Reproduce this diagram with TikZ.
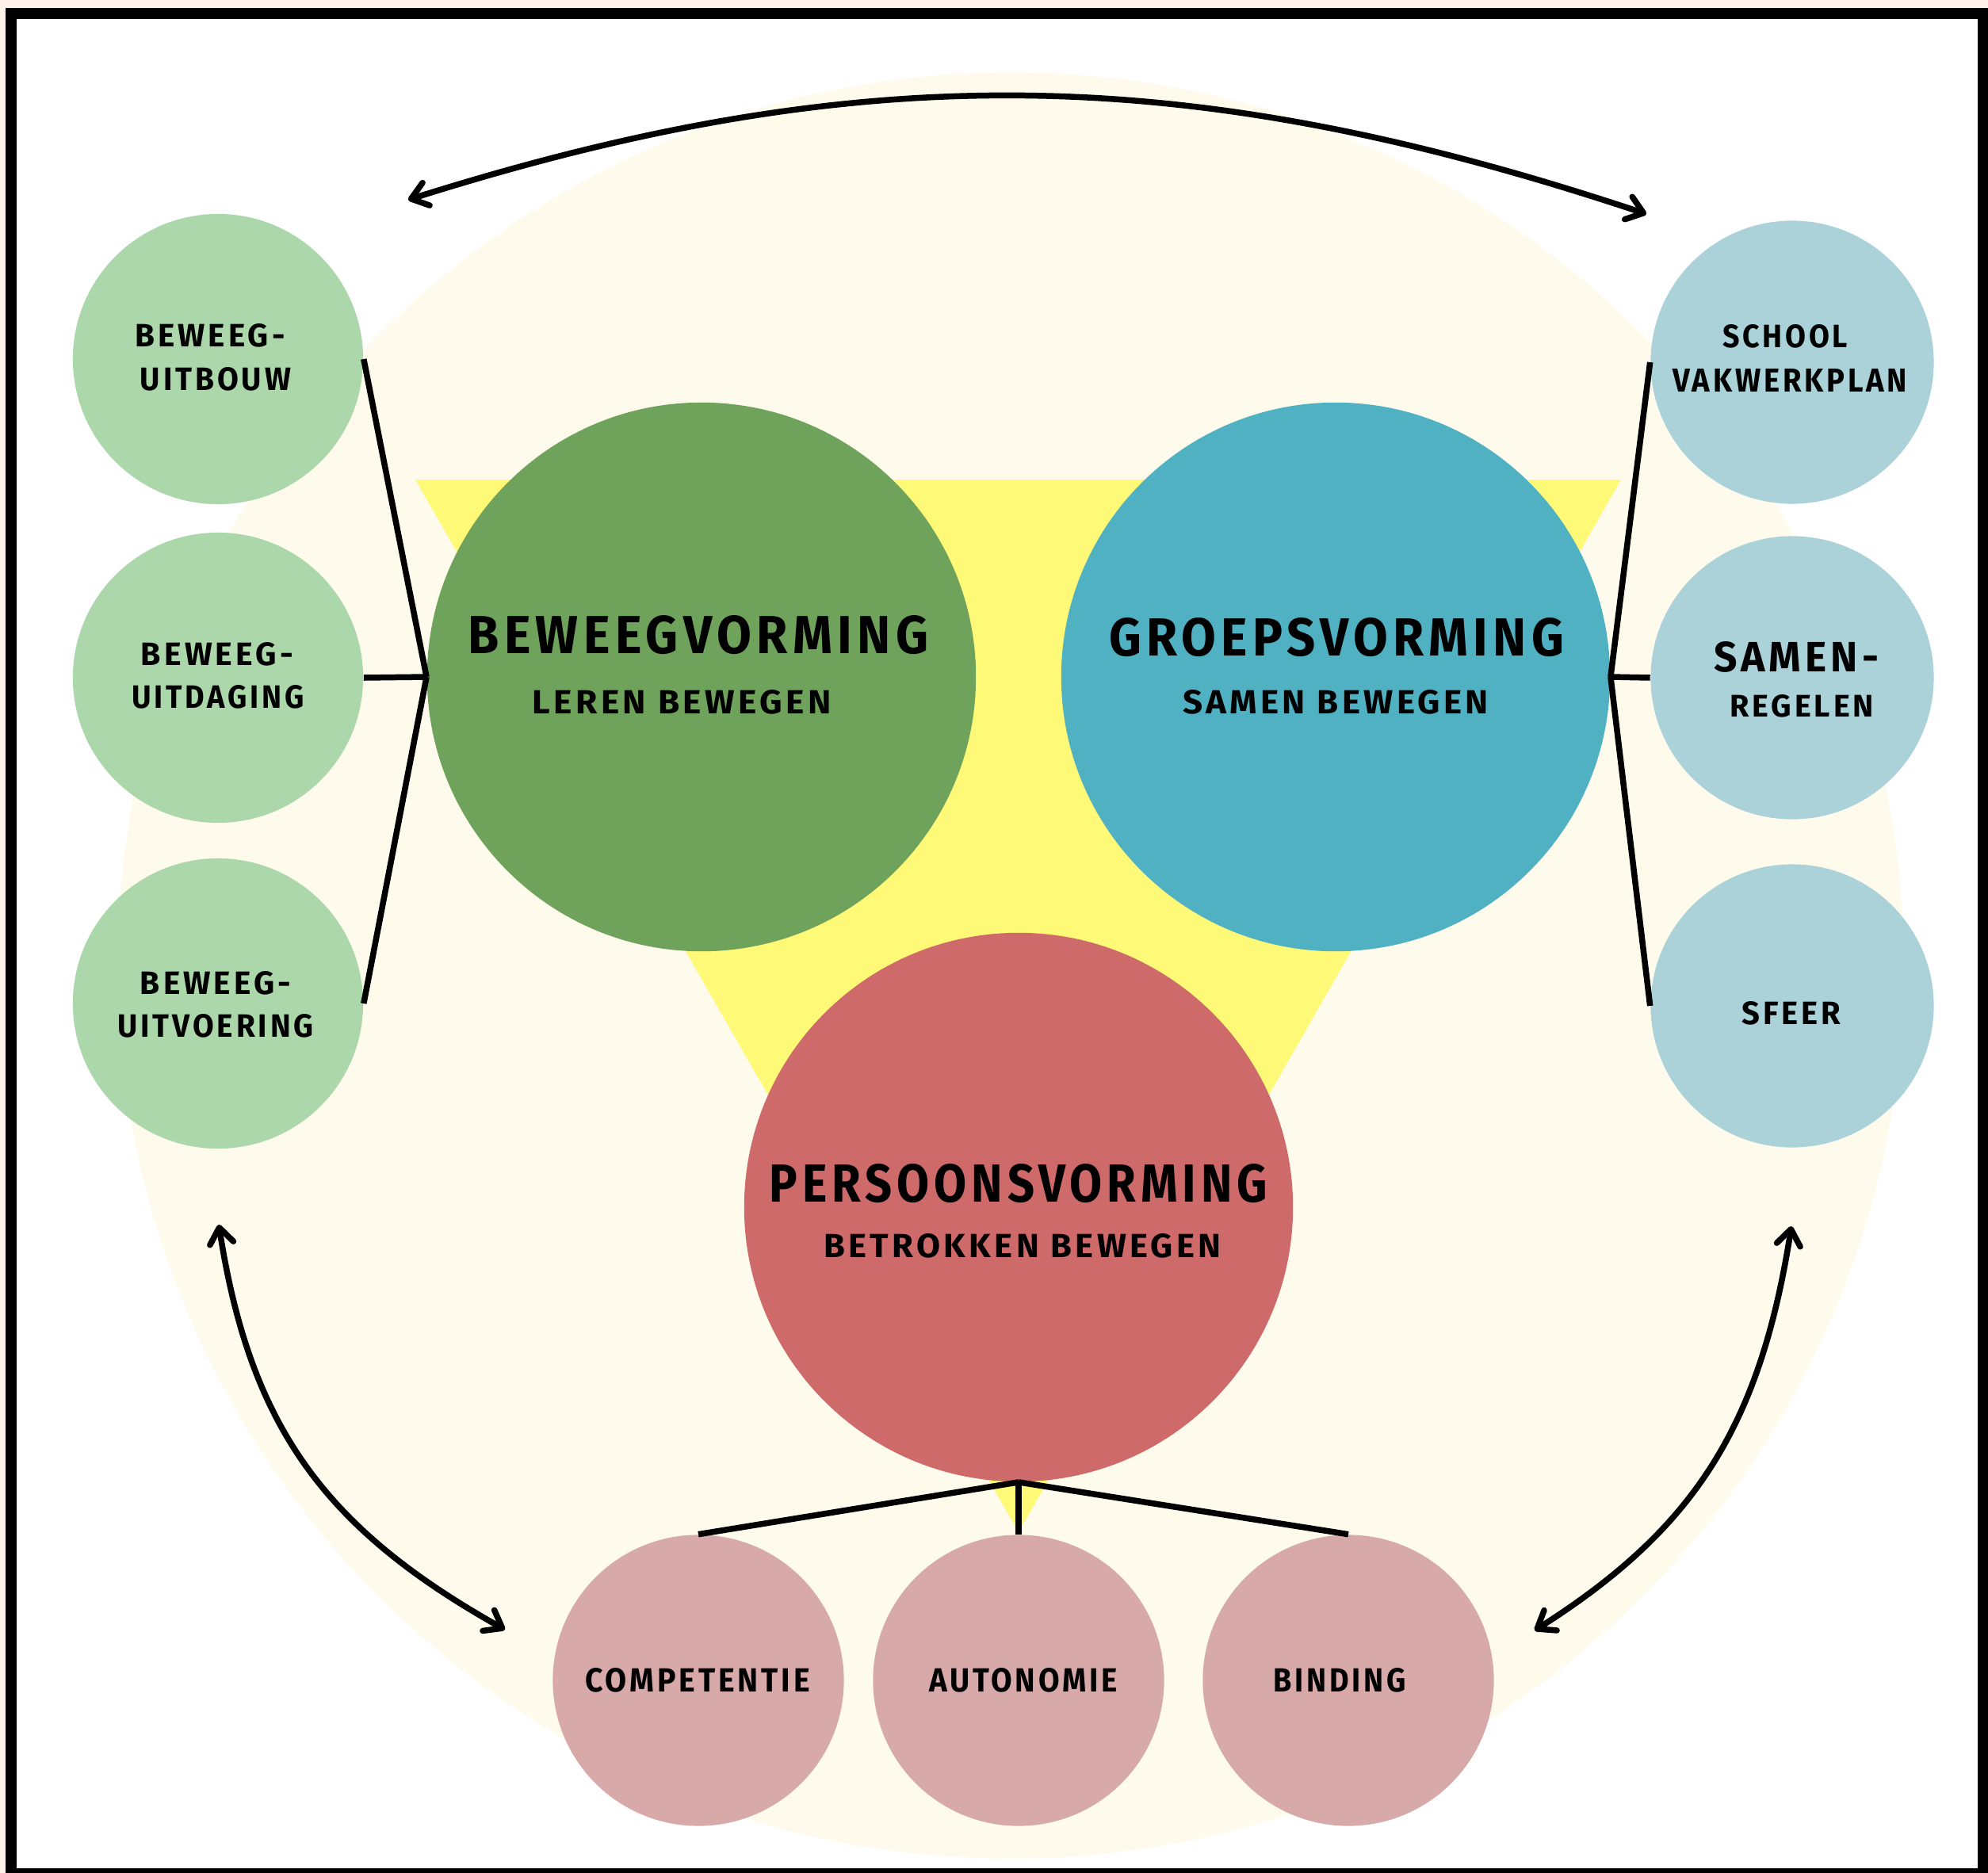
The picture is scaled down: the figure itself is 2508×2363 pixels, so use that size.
\documentclass[tikz,border=0pt]{standalone}
\usepackage{fontspec}
\setmainfont{Fira Sans}
\usetikzlibrary{arrows.meta}
\definecolor{peach}{HTML}{FEF2EA}
\definecolor{cream}{HTML}{FEFBEC}
\definecolor{yel}{HTML}{FFF978}
\definecolor{gbig}{HTML}{6FA25A}
\definecolor{bbig}{HTML}{50B1C3}
\definecolor{rbig}{HTML}{CF6A6A}
\definecolor{lgreen}{HTML}{ACD7AB}
\definecolor{lblue}{HTML}{ABD2D8}
\definecolor{lpink}{HTML}{D7A9A9}
\newlength{\px}\setlength{\px}{0.01cm}
\newcommand{\fittext}[3]{\resizebox{#1\px}{#2\px}{\bfseries\addfontfeature{LetterSpace=10}#3}}
\begin{document}
\begin{tikzpicture}[x=0.01cm, y=-0.01cm,
  disc/.style={circle, inner sep=0pt, draw=none},
  bigdisc/.style={disc, minimum size=6.92cm},
  leftdisc/.style={disc, minimum size=3.66cm, fill=lgreen},
  rightdisc/.style={disc, minimum size=3.57cm, fill=lblue},
  lowdisc/.style={disc, minimum size=3.67cm, fill=lpink},
  link/.style={line width=0.075cm, black},
  arr/.style={line width=0.075cm, black, line cap=round,
    {Straight Barb[length=0.2cm,width=0.3cm,round]}-{Straight Barb[length=0.2cm,width=0.3cm,round]}},
  txt/.style={inner sep=0pt}]
\useasboundingbox (0,0) rectangle (2508,2363);
\clip (0,0) rectangle (2508,2363);
\fill[peach] (0,0) rectangle (2508,2363);
\draw[line width=0.14cm, fill=white] (14,17) rectangle (2502,2364);
\fill[cream] (1275,1218) circle[radius=11.26cm];
\fill[yel] (524,605) -- (2045,605) -- (1285,1933) -- cycle;

% big circles
\node[bigdisc, fill=gbig] (beweeg) at (885,854) {};
\node[bigdisc, fill=bbig] (groep) at (1685,854) {};
\node[bigdisc, fill=rbig] (persoon) at (1285,1523) {};

% small circles
\node[leftdisc] (uitbouw) at (275,453) {};
\node[leftdisc] (uitdaging) at (275,855) {};
\node[leftdisc] (uitvoering) at (275,1266) {};
\node[rightdisc] (school) at (2261,457) {};
\node[rightdisc] (samen) at (2261,855) {};
\node[rightdisc] (sfeer) at (2261,1269) {};
\node[lowdisc] (comp) at (881,2120) {};
\node[lowdisc] (auto) at (1285,2120) {};
\node[lowdisc] (binding) at (1701,2120) {};

% connectors
\draw[link] (uitbouw.east) -- (beweeg.west);
\draw[link] (uitdaging.east) -- (beweeg.west);
\draw[link] (uitvoering.east) -- (beweeg.west);
\draw[link] (school.west) -- (groep.east);
\draw[link] (samen.west) -- (groep.east);
\draw[link] (sfeer.west) -- (groep.east);
\draw[link] (comp.north) -- (persoon.south);
\draw[link] (auto.north) -- (persoon.south);
\draw[link] (binding.north) -- (persoon.south);

% curved arrows
\coordinate (a1) at (515,252);
\coordinate (a2) at (2077,270);
\coordinate (b1) at (276,1545);
\coordinate (b2) at (637,2056);
\coordinate (c1) at (2260,1547);
\coordinate (c2) at (1936,2057);
\draw[arr] (a1) .. controls (1091,70) and (1504,79) .. (a2);
\draw[arr] (b1) .. controls (316,1802) and (411,1929) .. (b2);
\draw[arr] (c1) .. controls (2220,1802) and (2136,1930) .. (c2);

% texts
\node[txt] (t1a) at (881,801) {\fittext{581}{48}{BEWEEGVORMING}};
\node[txt] (t1b) at (860,886) {\fittext{377}{30}{LEREN BEWEGEN}};
\node[txt] (t2a) at (1686,804) {\fittext{574}{48}{GROEPSVORMING}};
\node[txt] (t2b) at (1685,886) {\fittext{386}{30}{SAMEN BEWEGEN}};
\node[txt] (t3a) at (1285,1493) {\fittext{628}{48}{PERSOONSVORMING}};
\node[txt] (t3b) at (1290,1572) {\fittext{501}{30}{BETROKKEN BEWEGEN}};

\node[txt] (l1a) at (265,423) {\fittext{189}{29}{BEWEEG-}};
\node[txt] (l1b) at (272,478) {\fittext{190}{29}{UITBOUW}};
\node[txt] (l2a) at (274,825) {\fittext{192}{29}{BEWEEG-}};
\node[txt] (l2b) at (275,879) {\fittext{217}{29}{UITDAGING}};
\node[txt] (l3a) at (272,1240) {\fittext{190}{29}{BEWEEG-}};
\node[txt] (l3b) at (272,1294) {\fittext{247}{29}{UITVOERING}};

\node[txt] (r1a) at (2252,424) {\fittext{158}{29}{SCHOOL}};
\node[txt] (r1b) at (2258,480) {\fittext{296}{29}{VAKWERKPLAN}};
\node[txt] (r2a) at (2266,829) {\fittext{208}{38}{SAMEN-}};
\node[txt] (r2b) at (2273,891) {\fittext{182}{28}{REGELEN}};
\node[txt] (r3a) at (2260,1278) {\fittext{125}{29}{SFEER}};

\node[txt] (p1) at (880,2120) {\fittext{284}{30}{COMPETENTIE}};
\node[txt] (p2) at (1291,2120) {\fittext{238}{30}{AUTONOMIE}};
\node[txt] (p3) at (1690,2120) {\fittext{167}{30}{BINDING}};
\end{tikzpicture}
\end{document}
